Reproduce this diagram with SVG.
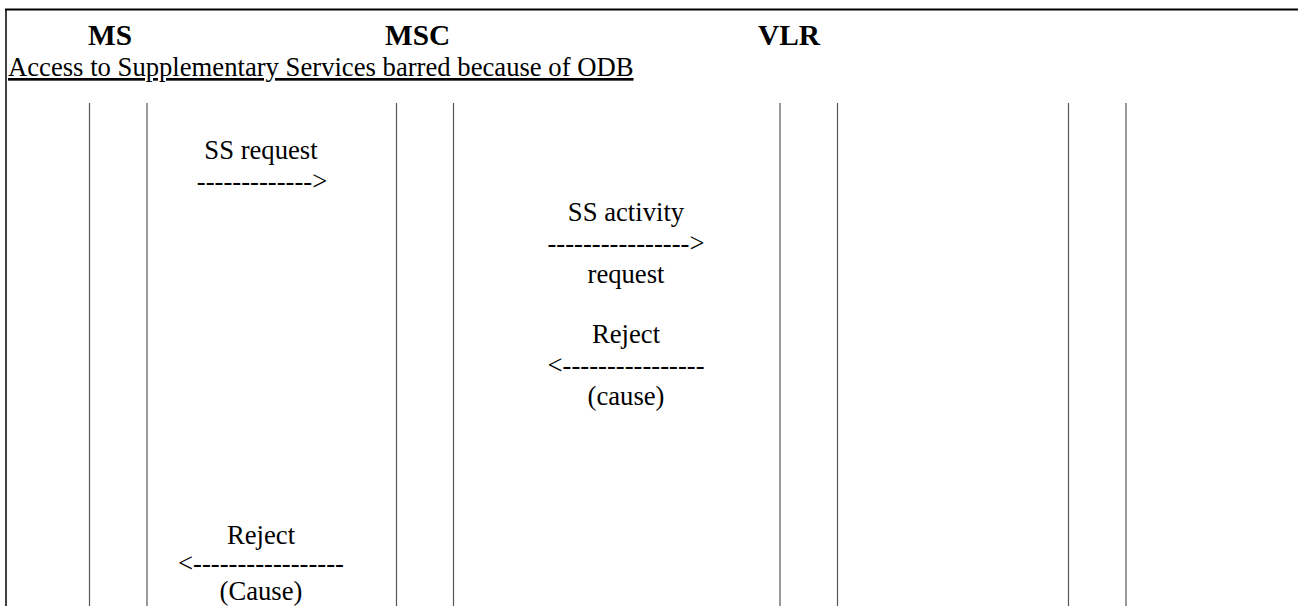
<svg xmlns="http://www.w3.org/2000/svg" width="1300" height="606" viewBox="0 0 1300 606">
<style>
text{font-family:"Liberation Serif","Times New Roman",serif;font-size:26.67px;fill:#000}
.h{font-weight:bold;font-size:29.3px}
.m{text-anchor:middle}
.life{stroke:#555;stroke-width:1.2;fill:none}
.frame{stroke:#000;fill:none}
</style>
<rect width="1300" height="606" fill="#fff"/>
<g id="frame">
<line class="frame" x1="5" y1="9.5" x2="1298" y2="9.5" stroke-width="2"/>
<line class="frame" x1="6" y1="9" x2="6" y2="606" stroke-width="1.5"/>
<text x="8" y="76" text-decoration="underline">Access to Supplementary Services barred because of ODB</text>
</g>
<g id="MS">
<text class="h" x="88" y="45">MS</text>
<line class="life" x1="89.5" y1="103" x2="89.5" y2="606"/>
<line class="life" x1="147" y1="103" x2="147" y2="606"/>
</g>
<g id="MSC">
<text class="h" x="385" y="45">MSC</text>
<line class="life" x1="396.5" y1="103" x2="396.5" y2="606"/>
<line class="life" x1="453.5" y1="103" x2="453.5" y2="606"/>
</g>
<g id="VLR">
<text class="h" x="758" y="45">VLR</text>
<line class="life" x1="780" y1="103" x2="780" y2="606"/>
<line class="life" x1="837.5" y1="103" x2="837.5" y2="606"/>
</g>
<g id="extra">
<line class="life" x1="1068.5" y1="103" x2="1068.5" y2="606"/>
<line class="life" x1="1126" y1="103" x2="1126" y2="606"/>
</g>
<g id="connectors">
<g id="msg1">
<text class="m" x="261" y="159">SS request</text>
<text class="m" x="262" y="190">-------------&gt;</text>
</g>
<g id="msg2">
<text class="m" x="626" y="221">SS activity</text>
<text class="m" x="626" y="252">----------------&gt;</text>
<text class="m" x="626" y="283">request</text>
</g>
<g id="msg3">
<text class="m" x="626" y="343">Reject</text>
<text class="m" x="626" y="374">&lt;----------------</text>
<text class="m" x="626" y="405">(cause)</text>
</g>
<g id="msg4">
<text class="m" x="261" y="544">Reject</text>
<text class="m" x="261" y="572">&lt;-----------------</text>
<text class="m" x="261" y="600">(Cause)</text>
</g>
</g>
</svg>
